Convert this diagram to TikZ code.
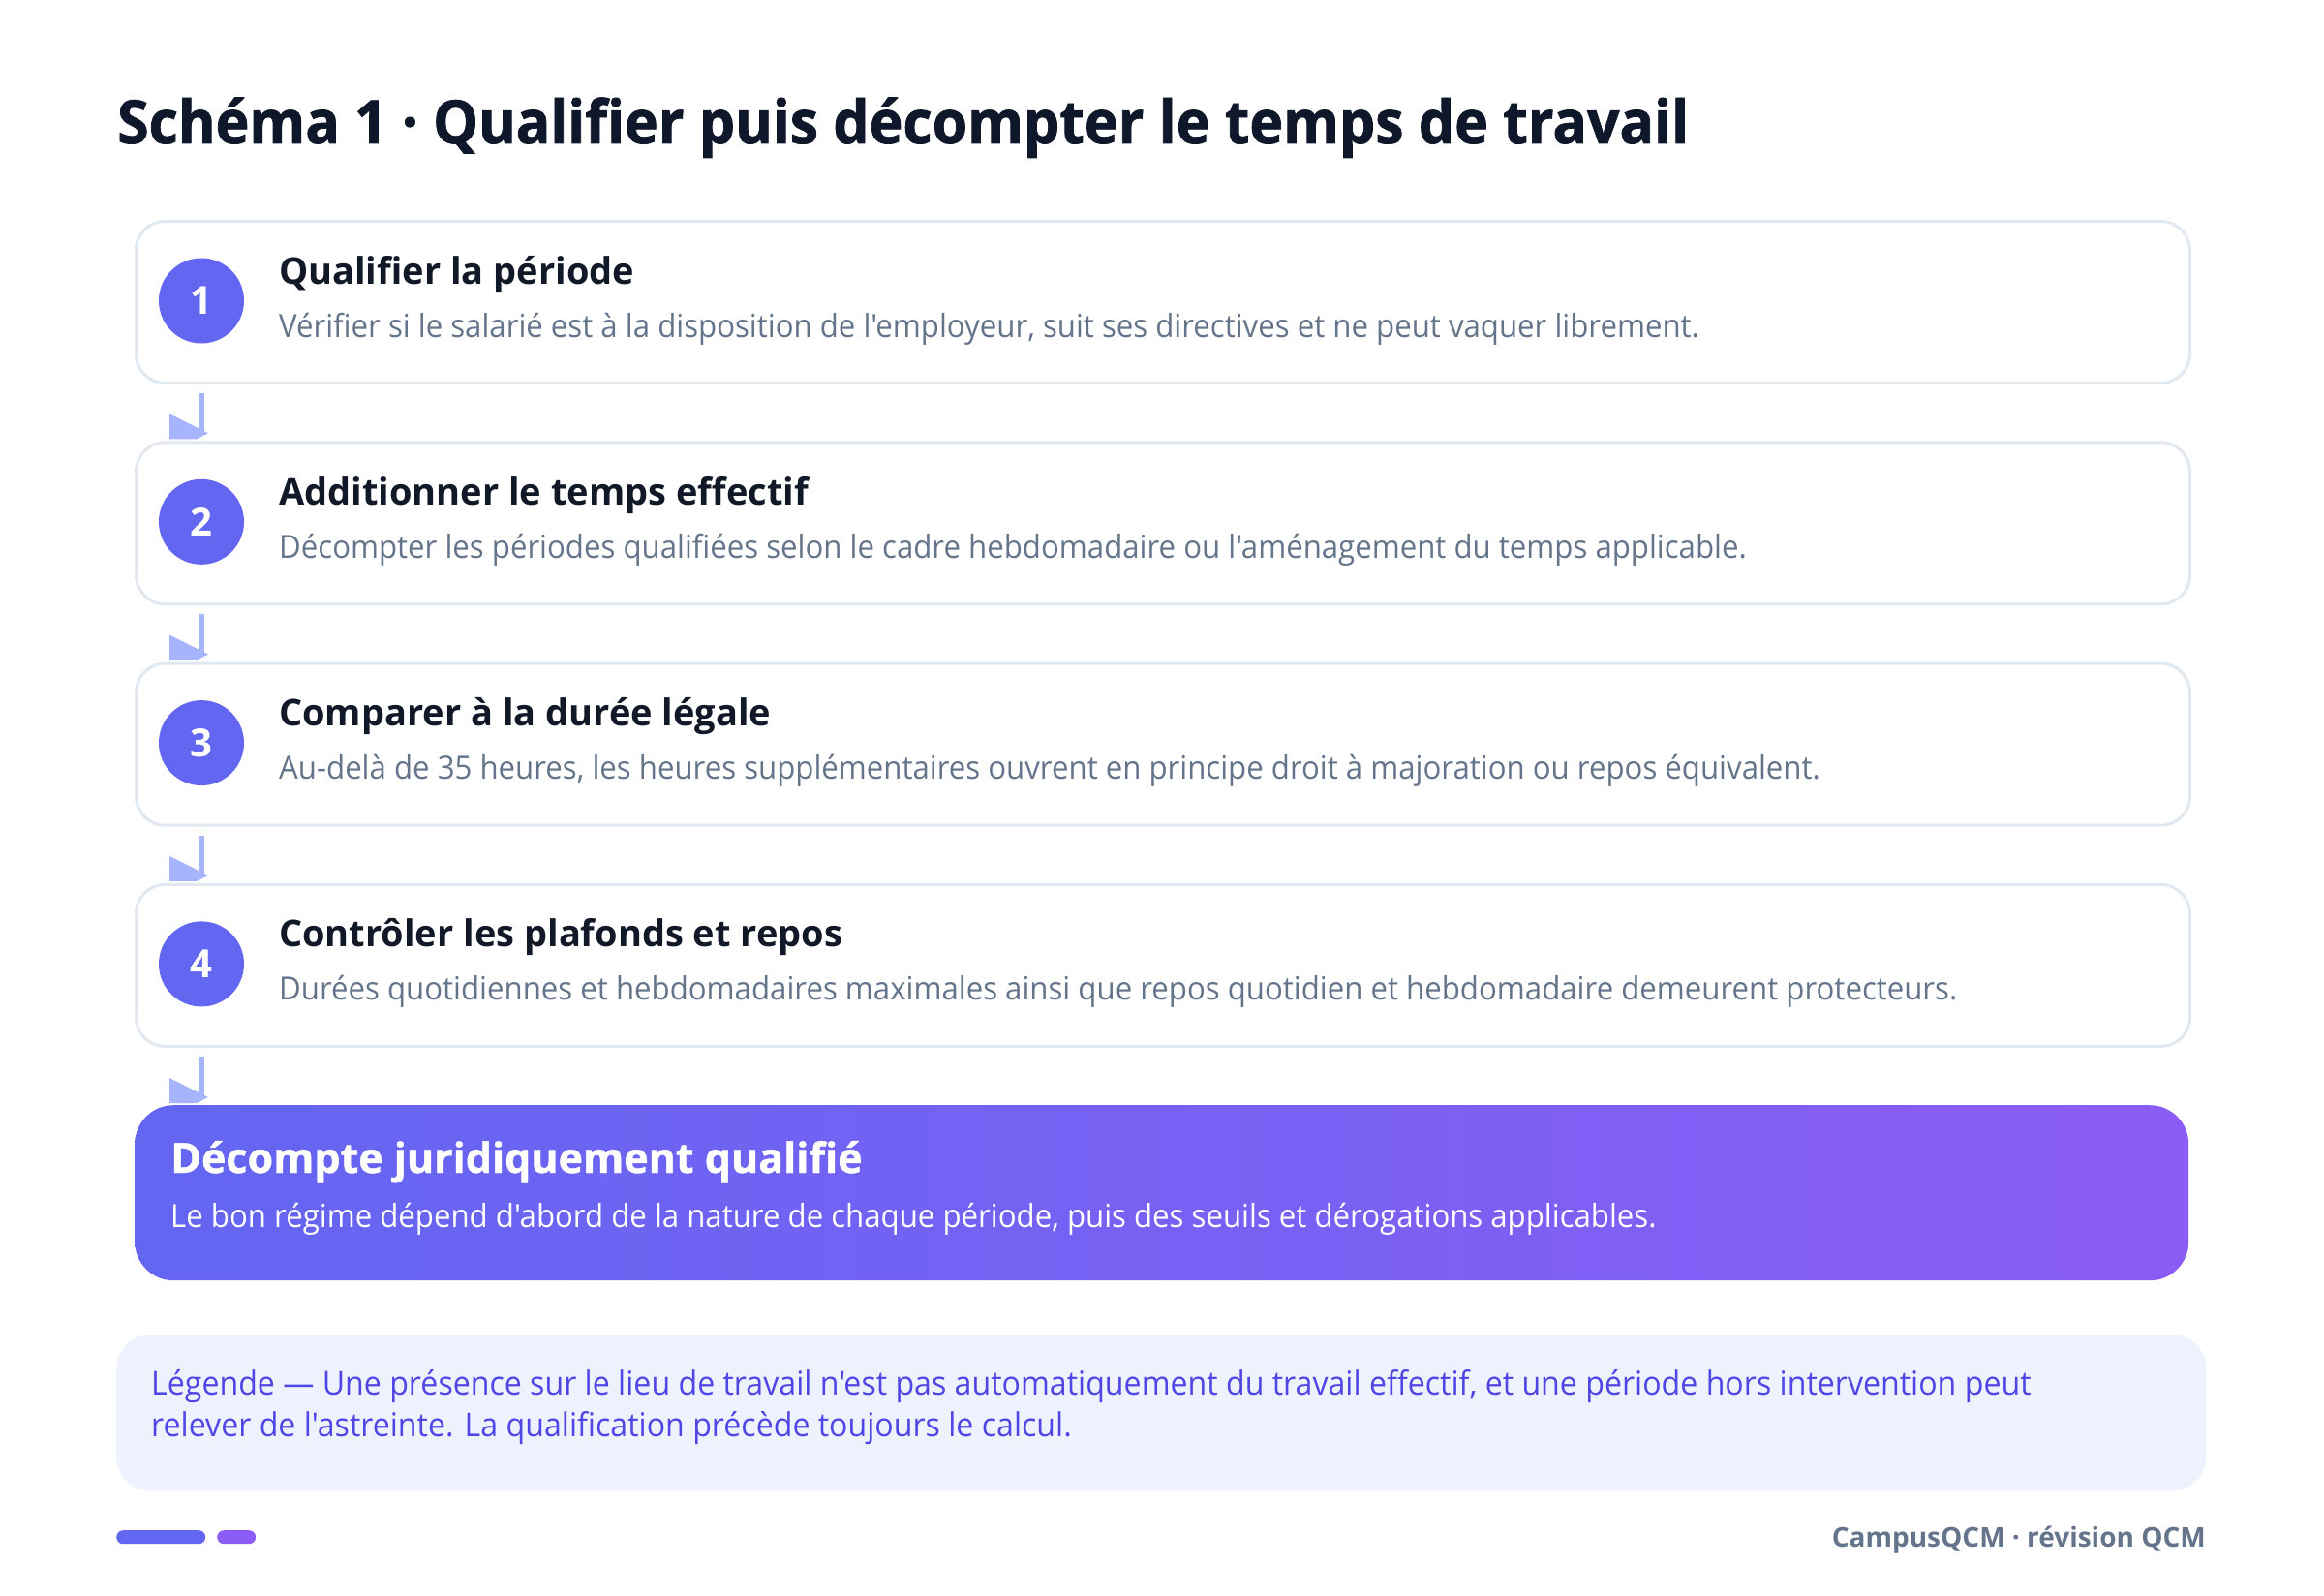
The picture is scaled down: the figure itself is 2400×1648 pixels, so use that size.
\documentclass[tikz,border=0pt]{standalone}
\usepackage{fontspec}
\setmainfont{Open Sans}
\newfontfamily\osbold{Open Sans}
\newfontfamily\ostitle{Open Sans}[FakeStretch=0.95, FakeBold=1.2]
\newfontfamily\osheavy{Open Sans}[FakeBold=1]
\newfontfamily\osreg{Open Sans}[FakeStretch=0.945]
\usetikzlibrary{calc}
\definecolor{ink}{HTML}{0F172A}
\definecolor{stepink}{HTML}{111827}
\definecolor{slate}{HTML}{64748B}
\definecolor{border}{HTML}{E2E8F0}
\definecolor{indigo}{HTML}{6366F1}
\definecolor{violet}{HTML}{8B5CF6}
\definecolor{connc}{HTML}{A5B4FC}
\definecolor{legfill}{HTML}{EEF2FF}
\definecolor{legink}{HTML}{4F46E5}
\tikzset{
  stepbox/.style={draw=border, line width=3pt, fill=white, rounded corners=30pt,
    minimum width=2121pt, minimum height=167pt, anchor=north west, inner sep=0pt},
  numdot/.style={circle, fill=indigo, minimum size=88pt, inner sep=0pt,
    text=white, font=\osbold\fontsize{40}{46}\selectfont\bfseries},
  steptitle/.style={anchor=base west, inner sep=0pt, text=stepink,
    font=\osbold\fontsize{38}{44}\selectfont\bfseries},
  stepsub/.style={anchor=base west, inner sep=0pt, text=slate,
    font=\osreg\fontsize{33}{40}\selectfont},
  connline/.style={draw=connc, line width=6pt},
  conntip/.style={fill=connc},
  finalbox/.style={rounded corners=40pt, minimum width=2121pt, minimum height=181pt,
    anchor=north west, inner sep=0pt, left color=indigo, right color=violet},
  legtext/.style={anchor=base west, inner sep=0pt, text=legink,
    font=\osreg\fontsize{34}{42}\selectfont},
}
\begin{document}
\begin{tikzpicture}[x=1pt,y=-1pt]
\useasboundingbox (0,0) rectangle (2400,1648);
\fill[white] (0,0) rectangle (2400,1648);

\node[anchor=base west, inner sep=0pt, text=ink, font=\ostitle\fontsize{62}{72}\selectfont\bfseries]
  (title) at (121,148) {Schéma 1 · Qualifier puis décompter le temps de travail};

% step boxes
\node[stepbox] (s1) at (139,227) {};
\node[stepbox] (s2) at (139,455.3) {};
\node[stepbox] (s3) at (139,683.6) {};
\node[stepbox] (s4) at (139,911.9) {};

\node[numdot] (n1) at ($(s1.north west)+(69,83.5)$) {1};
\node[numdot] (n2) at ($(s2.north west)+(69,83.5)$) {2};
\node[numdot] (n3) at ($(s3.north west)+(69,83.5)$) {3};
\node[numdot] (n4) at ($(s4.north west)+(69,83.5)$) {4};

\node[steptitle] (t1) at ($(s1.north west)+(149,66)$) {Qualifier la période};
\node[stepsub] (d1) at ($(s1.north west)+(149,121)$) {Vérifier si le salarié est à la disposition de l'employeur, suit ses directives et ne peut vaquer librement.};
\node[steptitle] (t2) at ($(s2.north west)+(149,66)$) {Additionner le temps effectif};
\node[stepsub] (d2) at ($(s2.north west)+(149,121)$) {Décompter les périodes qualifiées selon le cadre hebdomadaire ou l'aménagement du temps applicable.};
\node[steptitle] (t3) at ($(s3.north west)+(149,66)$) {Comparer à la durée légale};
\node[stepsub] (d3) at ($(s3.north west)+(149,121)$) {Au-delà de 35 heures, les heures supplémentaires ouvrent en principe droit à majoration ou repos équivalent.};
\node[steptitle] (t4) at ($(s4.north west)+(149,66)$) {Contrôler les plafonds et repos};
\node[stepsub] (d4) at ($(s4.north west)+(149,121)$) {Durées quotidiennes et hebdomadaires maximales ainsi que repos quotidien et hebdomadaire demeurent protecteurs.};

% final box
\node[finalbox] (fin) at (139,1141) {};
\node[anchor=base west, inner sep=0pt, text=white, font=\osheavy\fontsize{43}{50}\selectfont\bfseries]
  (ft) at ($(fin.north west)+(37,70)$) {Décompte juridiquement qualifié};
\node[anchor=base west, inner sep=0pt, text=white, font=\osreg\fontsize{33}{40}\selectfont]
  (fd) at ($(fin.north west)+(37,126)$) {Le bon régime dépend d'abord de la nature de chaque période, puis des seuils et dérogations applicables.};

% connectors
\foreach \a/\b in {s1/s2, s2/s3, s3/s4, s4/fin}{
  \draw[connline] ($(\a.south west)+(69,9)$) -- ($(\b.north west)+(69,-7)$);
  \fill[conntip] ($(\b.north west)+(36,-28)$) -- ($(\b.north west)+(76,-8)$)
     -- ($(\b.north west)+(64,-2)$) -- ($(\b.north west)+(36,-2)$) -- cycle;
}

% legend
\node[fill=legfill, rounded corners=35pt, minimum width=2158pt, minimum height=161pt,
  anchor=north west, inner sep=0pt] (leg) at (120,1378) {};
\node[legtext] (l1) at ($(leg.north west)+(36,62)$) {Légende — Une présence sur le lieu de travail n'est pas automatiquement du travail effectif, et une période hors intervention peut};
\node[legtext] (l2) at ($(leg.north west)+(36,105)$) {relever de l'astreinte. La qualification précède toujours le calcul.};

% footer
\node[fill=indigo, rounded corners=7pt, minimum width=92pt, minimum height=14pt,
  anchor=north west, inner sep=0pt] (bar1) at (120,1580) {};
\node[fill=violet, rounded corners=7pt, minimum width=40pt, minimum height=14pt,
  anchor=north west, inner sep=0pt] (bar2) at (224,1580) {};
\node[anchor=base east, inner sep=0pt, text=slate, font=\osbold\fontsize{28}{34}\selectfont\bfseries]
  (foot) at (2278,1597) {CampusQCM · révision QCM};
\end{tikzpicture}
\end{document}
